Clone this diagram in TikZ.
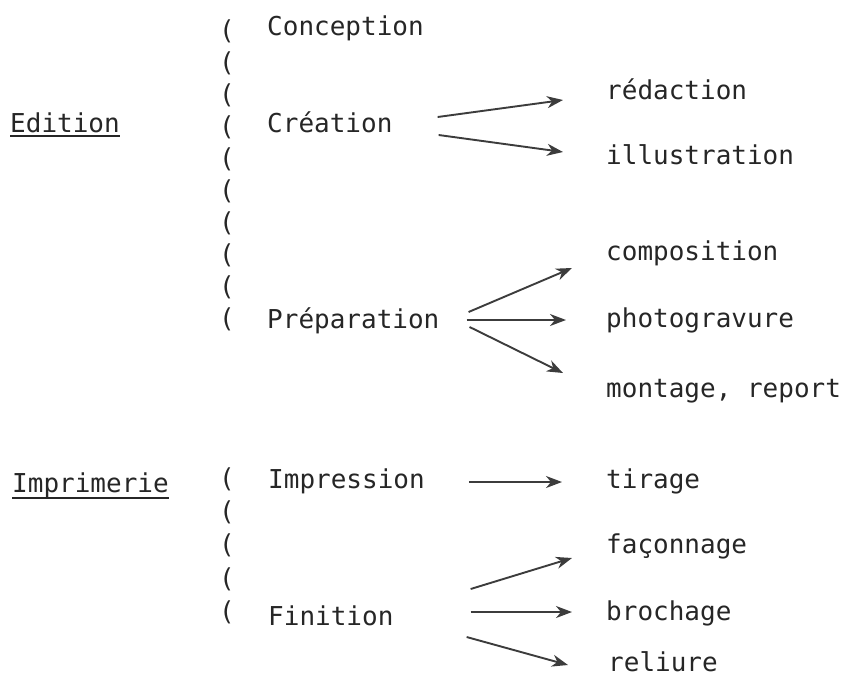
\documentclass[tikz,border=0pt]{standalone}
\usepackage{fontspec}
\newfontfamily\tw{DejaVu Sans Mono}
\usetikzlibrary{arrows.meta}
\definecolor{ink}{HTML}{262626}
\definecolor{arrowink}{HTML}{3C3C3C}
\tikzset{
  txt/.style={inner sep=0pt, anchor=base west, text=ink, font=\tw\fontsize{26}{28}\selectfont},
  par/.style={inner sep=0pt, anchor=center, text=ink, font=\tw\fontsize{26}{28}\selectfont},
  arr/.style={draw=arrowink, line width=1.9pt, -{Stealth[length=16pt,width=12pt,inset=5pt]}},
  uline/.style={draw=ink, line width=1.2pt}
}
\begin{document}
\begin{tikzpicture}[x=1pt,y=-1pt]
\useasboundingbox (0,0) rectangle (850,678);
% left headings
\node[txt] (ed) at (10,132) {Edition};
\draw[uline] ([yshift=-4pt]ed.base west) -- ([yshift=-4pt]ed.base east);
\node[txt] (imp) at (12,492) {Imprimerie};
\draw[uline] ([yshift=-6pt]imp.base west) -- ([yshift=-6pt]imp.base east);
% brackets
\foreach \i in {0,...,9} { \node[par] (pe\i) at (227,31+32*\i) {(}; }
\foreach \i/\yy in {0/479,1/512,2/545.5,3/579,4/612} { \node[par] (pi\i) at (227,\yy) {(}; }
% middle column
\node[txt] (con) at (267,35) {Conception};
\node[txt] (cre) at (267,132) {Création};
\node[txt] (pre) at (267,328) {Préparation};
\node[txt] (ips) at (268,488) {Impression};
\node[txt] (fin) at (268,625) {Finition};
% right column
\node[txt] (red) at (606,99) {rédaction};
\node[txt] (ill) at (606,164) {illustration};
\node[txt] (com) at (606,260) {composition};
\node[txt] (pho) at (606,327) {photogravure};
\node[txt] (mon) at (606,397) {montage, report};
\node[txt] (tir) at (606,488) {tirage};
\node[txt] (fac) at (606,553) {façonnage};
\node[txt] (bro) at (606,620) {brochage};
\node[txt] (rel) at (608,671) {reliure};
% arrows
\draw[arr] ([shift={(45,-15)}]cre.base east) -- ([shift={(-43,1)}]red.base west);
\draw[arr] ([shift={(46,3)}]cre.base east) -- ([shift={(-43,-12)}]ill.base west);
\draw[arr] ([shift={(29,-16)}]pre.base east) -- ([shift={(-34,8)}]com.base west);
\draw[arr] ([shift={(27,-8)}]pre.base east) -- ([shift={(-40,-7)}]pho.base west);
\draw[arr] ([shift={(30,-1)}]pre.base east) -- ([shift={(-43,-24)}]mon.base west);
\draw[arr] ([shift={(44,-6)}]ips.base east) -- ([shift={(-44,-6)}]tir.base west);
\draw[arr] ([shift={(77,-36)}]fin.base east) -- ([shift={(-34,5)}]fac.base west);
\draw[arr] ([shift={(77,-13)}]fin.base east) -- ([shift={(-34,-8)}]bro.base west);
\draw[arr] ([shift={(73,12)}]fin.base east) -- ([shift={(-40,-6)}]rel.base west);
\end{tikzpicture}
\end{document}
